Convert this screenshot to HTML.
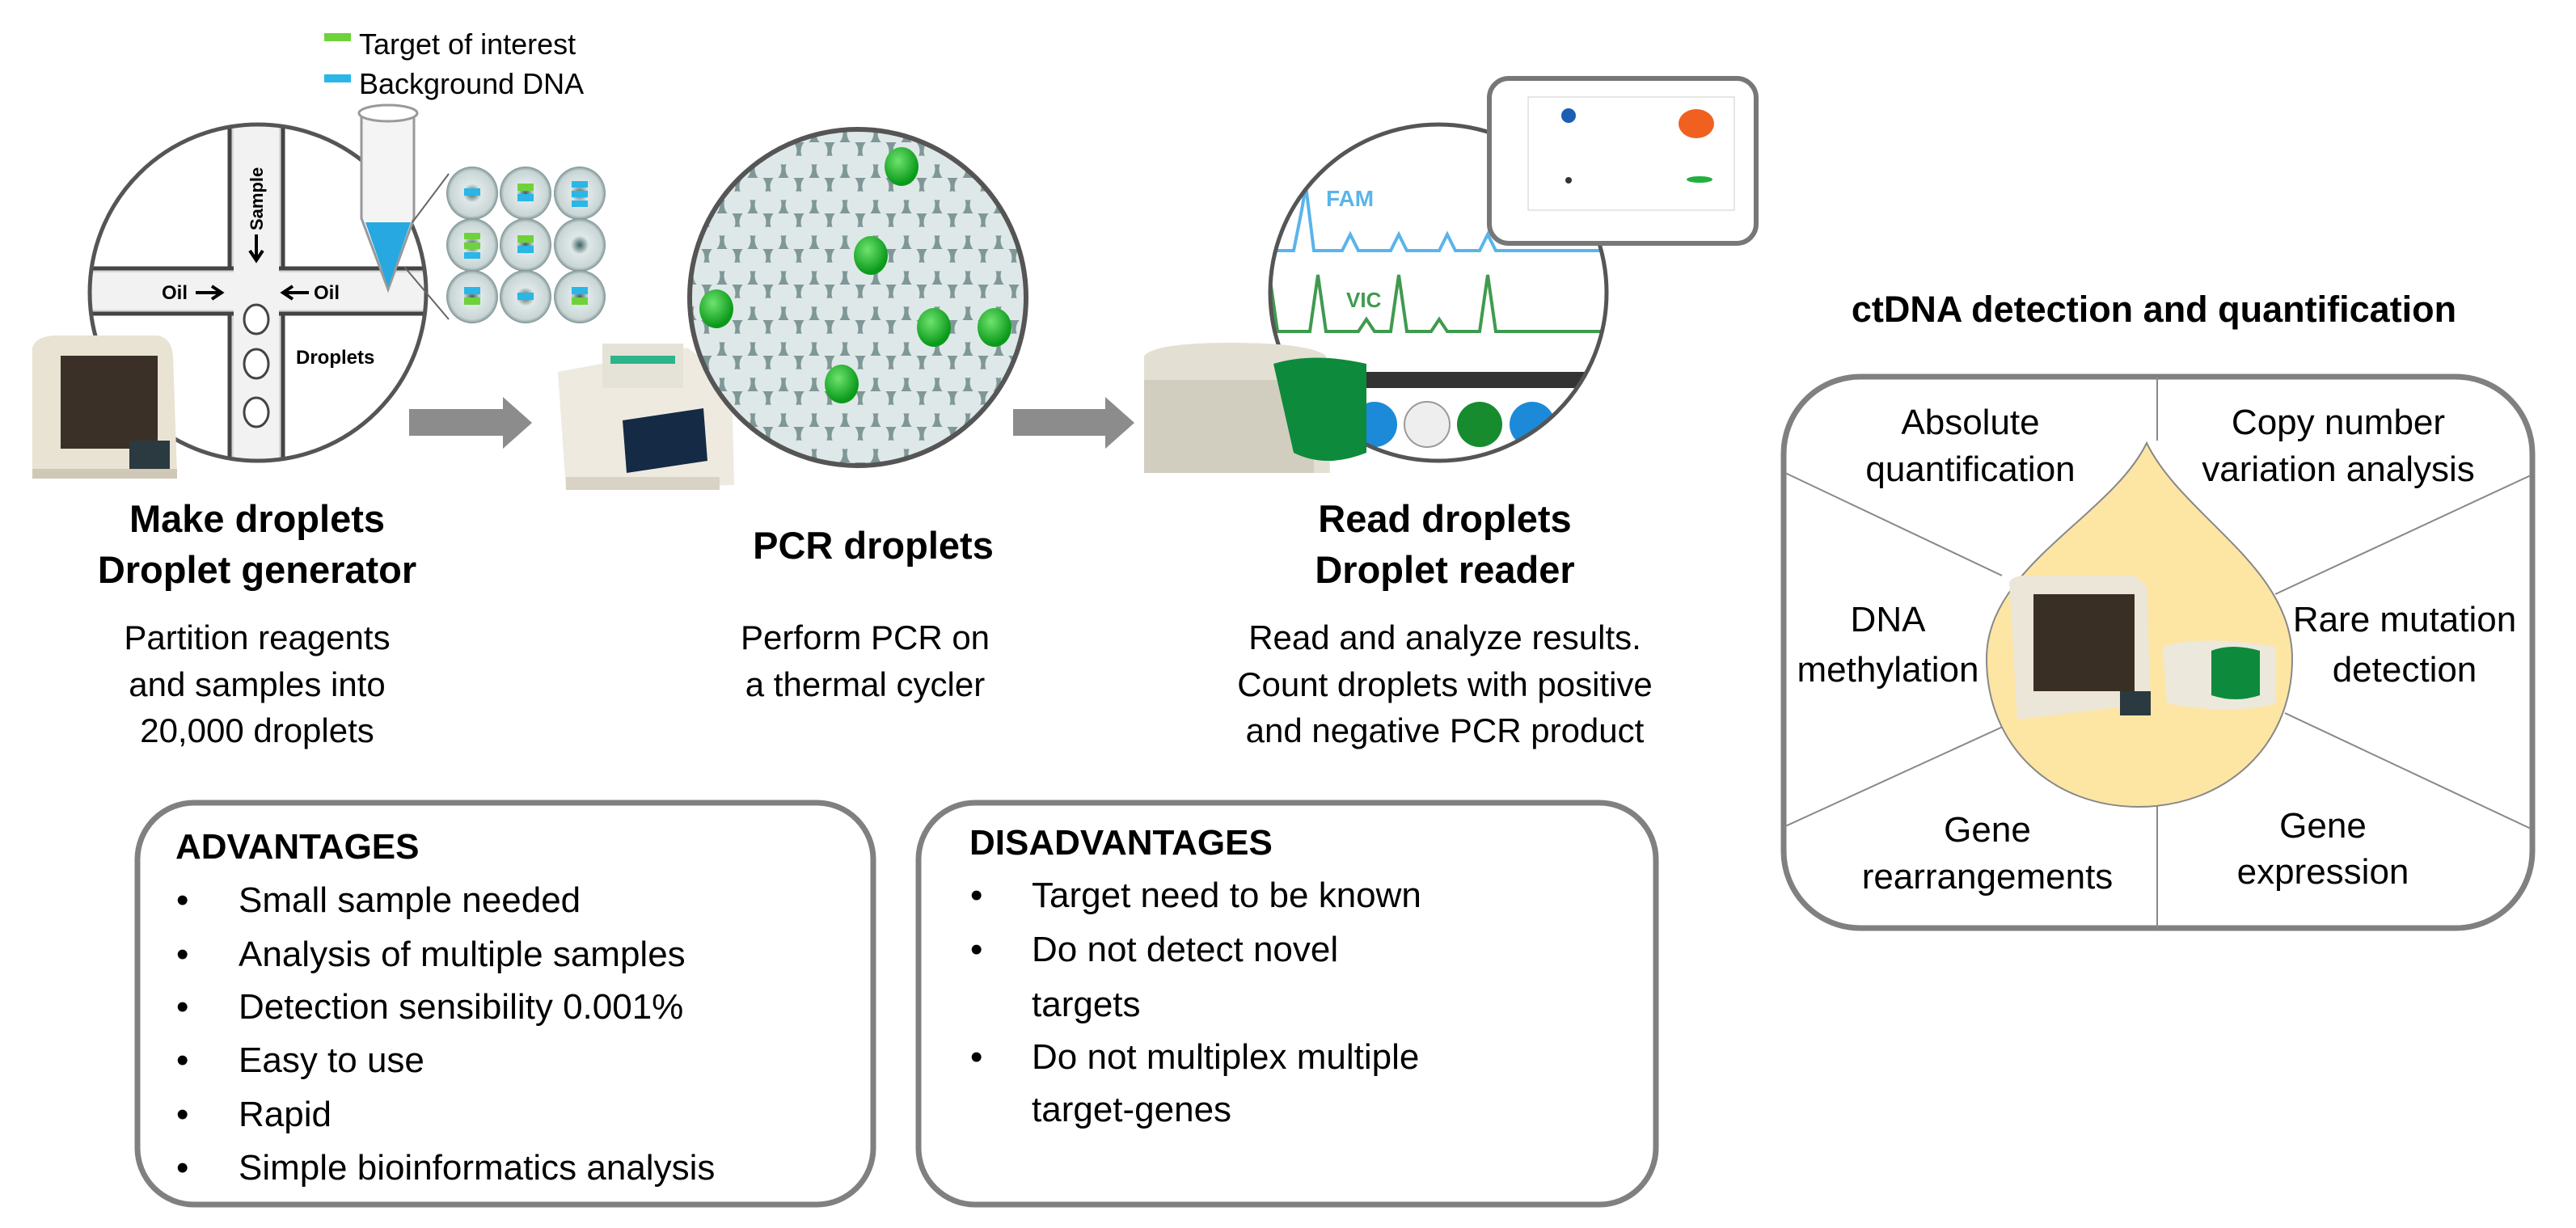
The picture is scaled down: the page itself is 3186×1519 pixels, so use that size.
<!DOCTYPE html>
<html><head><meta charset="utf-8"><style>
html,body{margin:0;padding:0;background:#fff;}
svg{display:block;}
text{font-family:"Liberation Sans",Arial,sans-serif;fill:#000;}
</style></head><body>
<svg width="3186" height="1519" viewBox="0 0 3186 1519" xmlns="http://www.w3.org/2000/svg">
<defs>
<pattern id="hex" width="38" height="44" patternUnits="userSpaceOnUse">
<rect width="38" height="44" fill="#7f9797"/>
<circle cx="19" cy="11" r="16.5" fill="#dfe8e8"/>
<circle cx="0" cy="33" r="16.5" fill="#dfe8e8"/>
<circle cx="38" cy="33" r="16.5" fill="#dfe8e8"/>
</pattern>
<radialGradient id="drop" cx="50%" cy="50%" r="50%">
<stop offset="0" stop-color="#3c6060"/><stop offset="0.35" stop-color="#dfe8e8"/><stop offset="0.85" stop-color="#c9d5d5"/><stop offset="1" stop-color="#7f9494"/>
</radialGradient>
<radialGradient id="gdot" cx="40%" cy="35%" r="60%">
<stop offset="0" stop-color="#6fe36f"/><stop offset="1" stop-color="#0a9a1a"/>
</radialGradient>
<clipPath id="c1"><circle cx="319" cy="362" r="208"/></clipPath>
<clipPath id="c3"><circle cx="1779" cy="362" r="208"/></clipPath>
</defs>

<!-- legend -->
<rect x="401" y="41" width="33" height="10" fill="#6fd23a"/>
<text x="444" y="67" font-size="36">Target of interest</text>
<rect x="401" y="92" width="33" height="10" fill="#2ab6e6"/>
<text x="444" y="116" font-size="36">Background DNA</text>

<!-- left circle -->
<circle cx="319" cy="362" r="208" fill="#fff"/>
<g clip-path="url(#c1)">
<rect x="284" y="150" width="66" height="440" fill="#d8d8d8" stroke="#444" stroke-width="5"/>
<rect x="100" y="332" width="440" height="56" fill="#d8d8d8" stroke="#444" stroke-width="5"/>
<rect x="289" y="150" width="56" height="440" fill="#f2f2f2"/>
<rect x="100" y="337" width="440" height="46" fill="#f2f2f2"/>
<ellipse cx="317" cy="395" rx="15" ry="18" fill="#fff" stroke="#444" stroke-width="3"/>
<ellipse cx="317" cy="450" rx="15" ry="18" fill="#fff" stroke="#444" stroke-width="3"/>
<ellipse cx="317" cy="510" rx="15" ry="18" fill="#fff" stroke="#444" stroke-width="3"/>
</g>
<circle cx="319" cy="362" r="208" fill="none" stroke="#555" stroke-width="5"/>
<text x="0" y="0" font-size="22" font-weight="bold" transform="translate(325,285) rotate(-90)">Sample</text>
<path d="M317 290 V320 M309 310 L317 322 L325 310" stroke="#000" stroke-width="4" fill="none"/>
<text x="200" y="370" font-size="24" font-weight="bold">Oil</text>
<path d="M242 362 H272 M262 354 L274 362 L262 370" stroke="#000" stroke-width="4" fill="none"/>
<path d="M352 362 H382 M362 354 L350 362 L362 370" stroke="#000" stroke-width="4" fill="none"/>
<text x="388" y="370" font-size="24" font-weight="bold">Oil</text>
<text x="366" y="450" font-size="24" font-weight="bold">Droplets</text>

<!-- tube -->
<path d="M447 140 L447 270 L480 358 L512 270 L512 140 Z" fill="#f4f4f4" stroke="#999" stroke-width="3"/>
<ellipse cx="480" cy="140" rx="36" ry="10" fill="#fff" stroke="#999" stroke-width="3"/>
<path d="M452 275 L508 275 L480 355 Z" fill="#27a8e0"/>
<line x1="510" y1="275" x2="555" y2="215" stroke="#666" stroke-width="2"/>
<line x1="500" y1="330" x2="555" y2="395" stroke="#666" stroke-width="2"/>

<!-- droplet grid -->
<g>
<ellipse cx="584" cy="239" rx="32" ry="33" fill="url(#drop)"/><rect x="574" y="233" width="20" height="9" fill="#2ab6e6"/>
<ellipse cx="650" cy="239" rx="32" ry="33" fill="url(#drop)"/><rect x="640" y="227" width="20" height="9" fill="#6fd23a"/><rect x="640" y="240" width="20" height="9" fill="#2ab6e6"/>
<ellipse cx="717" cy="239" rx="32" ry="33" fill="url(#drop)"/><rect x="707" y="224" width="20" height="8" fill="#2ab6e6"/><rect x="707" y="236" width="20" height="8" fill="#2ab6e6"/><rect x="707" y="248" width="20" height="8" fill="#2ab6e6"/>
<ellipse cx="584" cy="303" rx="32" ry="33" fill="url(#drop)"/><rect x="574" y="288" width="20" height="8" fill="#6fd23a"/><rect x="574" y="300" width="20" height="8" fill="#6fd23a"/><rect x="574" y="312" width="20" height="8" fill="#2ab6e6"/>
<ellipse cx="650" cy="303" rx="32" ry="33" fill="url(#drop)"/><rect x="640" y="291" width="20" height="9" fill="#6fd23a"/><rect x="640" y="304" width="20" height="9" fill="#2ab6e6"/>
<ellipse cx="717" cy="303" rx="32" ry="33" fill="url(#drop)"/>
<ellipse cx="584" cy="367" rx="32" ry="33" fill="url(#drop)"/><rect x="574" y="355" width="20" height="9" fill="#2ab6e6"/><rect x="574" y="368" width="20" height="9" fill="#6fd23a"/>
<ellipse cx="650" cy="367" rx="32" ry="33" fill="url(#drop)"/><rect x="640" y="362" width="20" height="9" fill="#2ab6e6"/>
<ellipse cx="717" cy="367" rx="32" ry="33" fill="url(#drop)"/><rect x="707" y="355" width="20" height="9" fill="#2ab6e6"/><rect x="707" y="368" width="20" height="9" fill="#6fd23a"/>
</g>

<!-- droplet generator device -->
<path d="M40 430 Q45 415 70 415 L195 415 Q212 418 214 440 L219 585 L40 591 Z" fill="#e9e3d3"/>
<rect x="75" y="440" width="120" height="115" fill="#3a3027"/>
<rect x="160" y="545" width="50" height="38" fill="#2a3a40"/>
<rect x="40" y="580" width="179" height="12" fill="#cfc8b6"/>

<!-- arrow 1 -->
<path d="M506 506 H622 V491 L658 523 L622 555 V539 H506 Z" fill="#8c8c8c"/>

<!-- thermal cycler -->
<path d="M690 460 L850 430 L905 470 L908 600 L700 606 Z" fill="#eeeae0"/>
<rect x="745" y="425" width="100" height="55" fill="#e5e2d8"/>
<rect x="755" y="440" width="80" height="10" fill="#2eb38a"/>
<path d="M770 520 L870 505 L875 570 L775 585 Z" fill="#152a44"/>
<rect x="700" y="590" width="190" height="16" fill="#d8d3c5"/>

<!-- PCR circle -->
<circle cx="1061" cy="368" r="208" fill="url(#hex)"/>
<circle cx="1061" cy="368" r="208" fill="none" stroke="#555" stroke-width="6"/>
<g fill="url(#gdot)">
<ellipse cx="1115" cy="206" rx="21" ry="24"/>
<ellipse cx="1077" cy="316" rx="21" ry="24"/>
<ellipse cx="886" cy="382" rx="21" ry="24"/>
<ellipse cx="1155" cy="405" rx="21" ry="24"/>
<ellipse cx="1230" cy="405" rx="21" ry="24"/>
<ellipse cx="1041" cy="475" rx="21" ry="24"/>
</g>

<!-- arrow 2 -->
<path d="M1253 506 H1367 V491 L1403 523 L1367 555 V539 H1253 Z" fill="#8c8c8c"/>

<!-- reader circle -->
<circle cx="1779" cy="362" r="208" fill="#fff"/>
<g clip-path="url(#c3)">
<path d="M1560 310 H1600 L1610 260 L1615 230 L1625 310 H1660 L1670 290 L1680 310 H1720 L1730 290 L1740 310 H1780 L1790 290 L1800 310 H1830 L1840 290 L1850 310 H1990" stroke="#5ab4ea" stroke-width="4" fill="none"/>
<path d="M1560 410 L1570 340 L1580 410 H1620 L1630 340 L1640 410 H1680 L1690 395 L1700 410 H1720 L1730 340 L1740 410 H1770 L1780 395 L1790 410 H1830 L1840 340 L1850 410 H1990" stroke="#3f9a4f" stroke-width="4" fill="none"/>
<text x="1640" y="255" font-size="28" font-weight="bold" style="fill:#5ab4ea">FAM</text>
<text x="1665" y="380" font-size="26" font-weight="bold" style="fill:#3f9a4f">VIC</text>
<rect x="1560" y="460" width="440" height="20" fill="#333"/>
<circle cx="1700" cy="525" r="28" fill="#1c8ad8"/>
<circle cx="1765" cy="525" r="28" fill="#eee" stroke="#999" stroke-width="2"/>
<circle cx="1830" cy="525" r="28" fill="#178c2f"/>
<circle cx="1895" cy="525" r="28" fill="#1c8ad8"/>
</g>
<circle cx="1779" cy="362" r="208" fill="none" stroke="#555" stroke-width="5"/>

<!-- plot box -->
<rect x="1842" y="97" width="330" height="204" rx="24" fill="#fff" stroke="#777" stroke-width="6"/>
<rect x="1890" y="120" width="255" height="140" fill="none" stroke="#ccc" stroke-width="1"/>
<circle cx="1940" cy="143" r="9" fill="#1a5fb4"/>
<ellipse cx="2098" cy="153" rx="22" ry="18" fill="#f06020"/>
<circle cx="1940" cy="223" r="4" fill="#333"/>
<ellipse cx="2102" cy="222" rx="16" ry="4" fill="#20b040"/>

<!-- reader device -->
<path d="M1415 440 Q1430 424 1520 424 Q1620 424 1640 440 L1645 585 L1415 585 Z" fill="#e3dfd2"/>
<rect x="1415" y="470" width="210" height="115" fill="#d2cebf"/>
<path d="M1575 450 Q1625 435 1690 450 L1690 560 Q1640 580 1600 560 Z" fill="#0e8a3c"/>

<!-- step texts -->
<g text-anchor="middle">
<text x="318" y="658" font-size="47" font-weight="bold">Make droplets</text>
<text x="318" y="721" font-size="47" font-weight="bold">Droplet generator</text>
<text x="318" y="803" font-size="42">Partition reagents</text>
<text x="318" y="861" font-size="42">and samples into</text>
<text x="318" y="918" font-size="42">20,000 droplets</text>
<text x="1080" y="691" font-size="47" font-weight="bold">PCR droplets</text>
<text x="1070" y="803" font-size="42">Perform PCR on</text>
<text x="1070" y="861" font-size="42">a thermal cycler</text>
<text x="1787" y="658" font-size="47" font-weight="bold">Read droplets</text>
<text x="1787" y="721" font-size="47" font-weight="bold">Droplet reader</text>
<text x="1787" y="803" font-size="42">Read and analyze results.</text>
<text x="1787" y="861" font-size="42">Count droplets with positive</text>
<text x="1787" y="918" font-size="42">and negative PCR product</text>
<text x="2664" y="398" font-size="45" font-weight="bold">ctDNA detection and quantification</text>
</g>

<!-- ctDNA box -->
<rect x="2206" y="466" width="926" height="682" rx="95" fill="#fff" stroke="#808080" stroke-width="7"/>
<g stroke="#888" stroke-width="2">
<line x1="2668" y1="466" x2="2668" y2="545"/>
<line x1="2668" y1="990" x2="2668" y2="1148"/>
<line x1="2208" y1="585" x2="2476" y2="712"/>
<line x1="3130" y1="588" x2="2814" y2="735"/>
<line x1="2477" y1="899" x2="2206" y2="1023"/>
<line x1="2826" y1="882" x2="3130" y2="1025"/>
</g>
<path d="M2655 548 C2700 640 2835 700 2835 815 C2835 925 2750 998 2645 998 C2540 998 2457 925 2457 815 C2457 700 2610 640 2655 548 Z" fill="#fde6a4" stroke="#888" stroke-width="2"/>
<path d="M2485 720 Q2490 712 2505 712 L2640 712 L2655 725 L2660 870 L2495 890 Z" fill="#ebe6d8"/>
<rect x="2515" y="735" width="125" height="120" fill="#3a2f25"/>
<rect x="2622" y="855" width="38" height="30" fill="#2a3a40"/>
<path d="M2675 800 Q2720 785 2815 800 L2815 870 Q2760 885 2680 870 Z" fill="#ece8dc"/>
<path d="M2735 805 Q2760 795 2795 805 L2795 860 Q2765 870 2735 860 Z" fill="#0e8a3c"/>
<g text-anchor="middle" font-size="44">
<text x="2437" y="537">Absolute</text>
<text x="2437" y="595">quantification</text>
<text x="2892" y="537">Copy number</text>
<text x="2892" y="595">variation analysis</text>
<text x="2335" y="781">DNA</text>
<text x="2335" y="843">methylation</text>
<text x="2974" y="781">Rare mutation</text>
<text x="2974" y="843">detection</text>
<text x="2458" y="1041">Gene</text>
<text x="2458" y="1099">rearrangements</text>
<text x="2873" y="1036">Gene</text>
<text x="2873" y="1093">expression</text>
</g>

<!-- advantages -->
<rect x="170" y="993" width="910" height="497" rx="70" fill="#fff" stroke="#808080" stroke-width="7"/>
<text x="217" y="1062" font-size="44" font-weight="bold">ADVANTAGES</text>
<g font-size="44">
<text x="218" y="1128">•</text><text x="295" y="1128">Small sample needed</text>
<text x="218" y="1195">•</text><text x="295" y="1195">Analysis of multiple samples</text>
<text x="218" y="1260">•</text><text x="295" y="1260">Detection sensibility 0.001%</text>
<text x="218" y="1326">•</text><text x="295" y="1326">Easy to use</text>
<text x="218" y="1393">•</text><text x="295" y="1393">Rapid</text>
<text x="218" y="1459">•</text><text x="295" y="1459">Simple bioinformatics analysis</text>
</g>
<!-- disadvantages -->
<rect x="1136" y="993" width="912" height="497" rx="70" fill="#fff" stroke="#808080" stroke-width="7"/>
<text x="1199" y="1057" font-size="44" font-weight="bold">DISADVANTAGES</text>
<g font-size="44">
<text x="1200" y="1122">•</text><text x="1276" y="1122">Target need to be known</text>
<text x="1200" y="1189">•</text><text x="1276" y="1189">Do not detect novel</text>
<text x="1276" y="1257">targets</text>
<text x="1200" y="1322">•</text><text x="1276" y="1322">Do not multiplex  multiple</text>
<text x="1276" y="1387">target-genes</text>
</g>
</svg>
</body></html>
